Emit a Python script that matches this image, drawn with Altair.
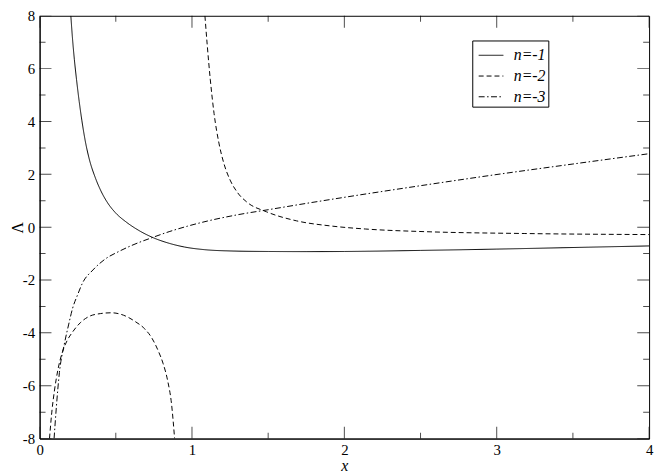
import altair as alt
import pandas as pd

# ---- data ----
# n=-1 (solid)
x_n1 = [0.205, 0.215, 0.228, 0.242, 0.26, 0.277, 0.30, 0.324, 0.367, 0.40, 0.443, 0.497, 0.567,
        0.65, 0.746, 0.85, 0.95, 1.08, 1.25, 1.5, 1.75, 2.0, 2.5, 3.0, 3.5, 4.0]
y_n1 = [8.0, 7.2, 6.35, 5.6, 4.75, 4.05, 3.25, 2.62, 1.85, 1.4, 0.95, 0.55, 0.2,
        -0.12, -0.4, -0.61, -0.75, -0.85, -0.9, -0.92, -0.925, -0.92, -0.88, -0.83, -0.77, -0.71]
# n=-2 (dashed), left and right branches
x_n2a = [0.065, 0.08, 0.097, 0.12, 0.151, 0.18, 0.216, 0.27, 0.324, 0.40, 0.47, 0.55, 0.627,
         0.69, 0.735, 0.78, 0.81, 0.84, 0.866, 0.886]
y_n2a = [-8.0, -7.0, -6.2, -5.4, -4.7, -4.3, -3.97, -3.6, -3.38, -3.27, -3.24, -3.33, -3.57,
         -3.85, -4.18, -4.7, -5.15, -5.8, -6.7, -8.0]
x_n2b = [1.085, 1.10, 1.12, 1.145, 1.178, 1.21, 1.253, 1.30, 1.36, 1.49, 1.686, 1.92,
         2.14, 2.53, 3.18, 4.0]
y_n2b = [8.0, 6.9, 5.6, 4.3, 3.15, 2.4, 1.75, 1.3, 0.95, 0.58, 0.24, 0.04,
         -0.07, -0.17, -0.24, -0.28]
# n=-3 (dash-dot)
x_n3 = [0.095, 0.11, 0.13, 0.162, 0.19, 0.216, 0.25, 0.281, 0.35, 0.432, 0.52, 0.605, 0.746,
        0.85, 0.972, 1.1, 1.3, 1.51, 1.75, 1.945, 2.5, 2.96, 3.5, 4.0]
y_n3 = [-8.0, -6.8, -5.5, -4.43, -3.7, -3.08, -2.55, -2.12, -1.62, -1.2, -0.92, -0.69, -0.38,
        -0.17, 0.04, 0.23, 0.47, 0.67, 0.9, 1.08, 1.57, 1.96, 2.39, 2.78]

series = ["n=-1", "n=-2", "n=-3"]
x_domain = [0, 4]
y_domain = [-8, 8]
x_major = [0, 1, 2, 3, 4]
x_minor = [0.5, 1.5, 2.5, 3.5]
y_major = [-8, -6, -4, -2, 0, 2, 4, 6, 8]
y_minor = [-7, -5, -3, -1, 1, 3, 5, 7]

rows = []
for xs, ys, s, b in [(x_n1, y_n1, series[0], "a"), (x_n2a, y_n2a, series[1], "b"),
                     (x_n2b, y_n2b, series[1], "c"), (x_n3, y_n3, series[2], "d")]:
    for xv, yv in zip(xs, ys):
        rows.append({"x": xv, "y": yv, "series": s, "branch": b})
df = pd.DataFrame(rows)

# tick positions on the frame edges (ticks of the box, drawn inward)
xt_major = pd.DataFrame([{"x": v, "y": e} for v in x_major for e in y_domain])
xt_minor = pd.DataFrame([{"x": v, "y": e} for v in x_minor for e in y_domain])
yt_major = pd.DataFrame([{"x": e, "y": v} for v in y_major for e in x_domain])
yt_minor = pd.DataFrame([{"x": e, "y": v} for v in y_minor for e in x_domain])

W, H = 617, 428
FONT = "'Liberation Serif'"

xscale = alt.Scale(domain=x_domain, nice=False, zero=False)
yscale = alt.Scale(domain=y_domain, nice=False, zero=False)

common = dict(grid=False, labelColor="black", titleColor="black", domainColor="black",
              domainWidth=1, ticks=False, labelFont=FONT, titleFont=FONT,
              labelFontSize=15, titleFontSize=16, titleFontWeight="normal",
              labelOverlap=False)

x_axis = alt.Axis(orient="bottom", values=x_major, labelPadding=4, format="d",
                  labelFlush=False, title="x", titleFontStyle="italic",
                  titleBaseline="alphabetic", titleY=32, **common)
y_axis = alt.Axis(orient="left", values=y_major, labelPadding=5,
                  labelExpr="toString(datum.value)", title="Λ",
                  titleBaseline="middle", titleX=-22, **common)

lines = alt.Chart(df).mark_line(clip=True, color="black", strokeWidth=1, interpolate="monotone").encode(
    x=alt.X("x:Q", scale=xscale, axis=x_axis),
    y=alt.Y("y:Q", scale=yscale, axis=y_axis),
    strokeDash=alt.StrokeDash("series:N", scale=alt.Scale(
        domain=series, range=[[1, 0], [5, 3], [6, 2.5, 1.5, 2.5]]),
        legend=alt.Legend(title=None, orient="none", legendX=438, legendY=25,
                          strokeColor="black", fillColor="white", padding=2,
                          symbolOffset=4,
                          symbolType="stroke", symbolSize=625, symbolStrokeWidth=1,
                          symbolStrokeColor="black", labelFont=FONT,
                          labelFontSize=16, labelFontStyle="italic", labelOffset=10,
                          rowPadding=alt.ExprRef("-6"), labelColor="black")),
    detail="branch:N",
)


def ticks(data, orient, length):
    # a tick centred on the frame edge, clipped to the plot: only the inner half shows
    return alt.Chart(data).mark_tick(orient=orient, size=2 * length, thickness=1,
                                     color="black", clip=True).encode(
        x=alt.X("x:Q", scale=xscale, axis=x_axis),
        y=alt.Y("y:Q", scale=yscale, axis=y_axis),
    )


chart = alt.layer(
    lines,
    ticks(xt_major, "vertical", 12),
    ticks(xt_minor, "vertical", 6),
    ticks(yt_major, "horizontal", 12),
    ticks(yt_minor, "horizontal", 6),
).properties(
    width=W, height=H,
    background="white",
    autosize=alt.AutoSizeParams(type="none"),
    padding={"left": 32, "top": 5, "right": 7, "bottom": 33},
).configure_view(stroke="black", strokeWidth=1)

chart.save("out.html", embed_options={"renderer": "svg", "actions": False})
